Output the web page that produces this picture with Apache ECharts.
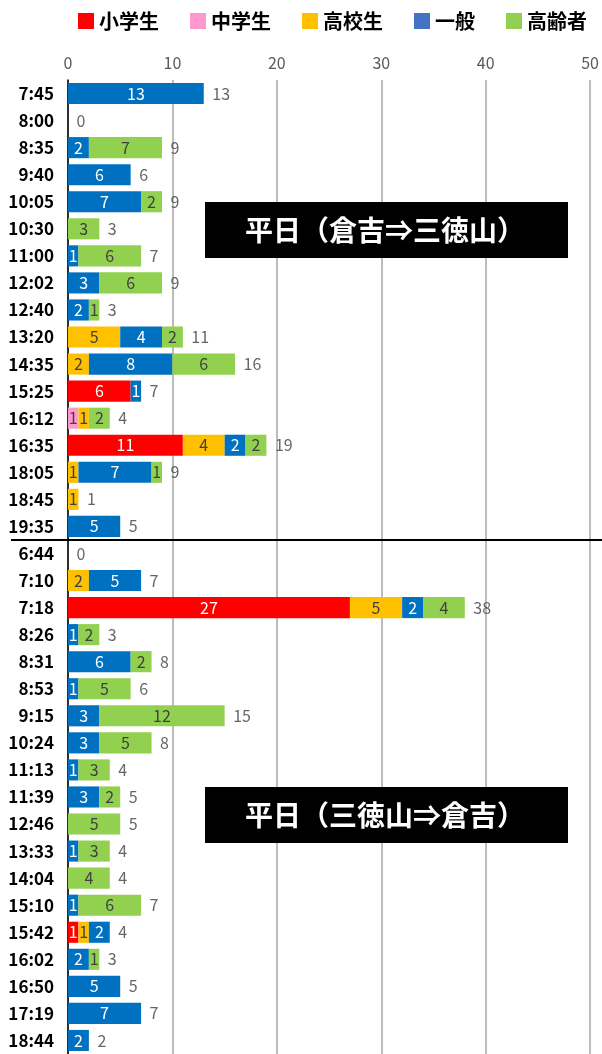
<!DOCTYPE html>
<html><head><meta charset="utf-8">
<script src="https://cdn.jsdelivr.net/npm/echarts@6/dist/echarts.min.js"></script>
<style>html,body{margin:0;padding:0;background:#fff}#c{width:602px;height:1054px}</style>
</head><body><div id="c"></div>
<script>
const categories = ['7:45','8:00','8:35','9:40','10:05','10:30','11:00','12:02','12:40','13:20','14:35','15:25','16:12','16:35','18:05','18:45','19:35',
  '6:44','7:10','7:18','8:26','8:31','8:53','9:15','10:24','11:13','11:39','12:46','13:33','14:04','15:10','15:42','16:02','16:50','17:19','18:44'];
const elementary = [null,null,null,null,null,null,null,null,null,null,null,6,null,11,null,null,null,
  null,null,27,null,null,null,null,null,null,null,null,null,null,null,1,null,null,null,null];
const juniorHigh = [null,null,null,null,null,null,null,null,null,null,null,null,1,null,null,null,null,
  null,null,null,null,null,null,null,null,null,null,null,null,null,null,null,null,null,null,null];
const highSchool = [null,null,null,null,null,null,null,null,null,5,2,null,1,4,1,1,null,
  null,2,5,null,null,null,null,null,null,null,null,null,null,null,1,null,null,null,null];
const general = [13,null,2,6,7,null,1,3,2,4,8,1,null,2,7,null,5,
  null,5,2,1,6,1,3,3,1,3,null,1,null,1,2,2,5,7,2];
const elderly = [null,null,7,null,2,3,6,6,1,2,6,null,2,2,1,null,null,
  null,null,4,2,2,5,12,5,3,2,5,3,4,6,null,1,null,null,null];
const xTicks = [0,10,20,30,40,50];
const boxTitles = ['平日（倉吉⇒三徳山）','平日（三徳山⇒倉吉）'];
const seriesNames = ['小学生','中学生','高校生','一般','高齢者'];

const font = '"Noto Sans CJK JP","Noto Sans",sans-serif';
const seriesData = [elementary, juniorHigh, highSchool, general, elderly];
const colors = ['#FF0000','#FF99CC','#FFC000','#0070C0','#92D050'];
const legendColors = ['#FF0000','#FF99CC','#FFC000','#4472C4','#92D050'];
const labelColors = ['#FFFFFF','#404040','#404040','#FFFFFF','#404040'];
const totals = categories.map((c,i)=>seriesData.reduce((s,a)=>s+(a[i]||0),0));

const chart = echarts.init(document.getElementById('c'));
const series = seriesNames.map((n,k)=>({
  name:n, type:'bar', stack:'all', data:seriesData[k], barCategoryGap:'22%',
  itemStyle:{color:colors[k]},
  label:{show:true, position:'inside', color:labelColors[k], fontSize:16, fontFamily:font,
    formatter:p=>p.value?String(p.value):''},
  emphasis:{disabled:true}
}));
series.push({
  name:'合計', type:'scatter', data:totals.map((t,i)=>[t,i]), symbolSize:1,
  itemStyle:{color:'rgba(0,0,0,0)'},
  label:{show:true, position:'right', distance:8, color:'#404040', fontSize:16, fontFamily:font,
    formatter:p=>String(p.value[0])},
  silent:true, z:5
});
chart.setOption({
  animation:false,
  textStyle:{fontFamily:font},
  legend:{left:73, top:6, itemWidth:16, itemHeight:16, itemGap:31, icon:'rect', selectedMode:false,
    textStyle:{fontSize:20, fontWeight:'bold', color:'#000', fontFamily:font},
    data:seriesNames.map((n,k)=>({name:n, itemStyle:{color:legendColors[k]}}))},
  grid:{left:68, right:11, top:80, bottom:0, containLabel:false},
  xAxis:{type:'value', position:'top', min:xTicks[0], max:xTicks[xTicks.length-1], interval:10,
    axisLine:{show:false}, axisTick:{show:false},
    axisLabel:{color:'#595959', fontSize:16, margin:9, fontFamily:font},
    splitLine:{show:true, lineStyle:{color:'#A6A6A6', width:1.5}}},
  yAxis:{type:'category', inverse:true, data:categories,
    axisLine:{show:true, lineStyle:{color:'#000', width:1.5}}, axisTick:{show:false},
    axisLabel:{color:'#000', fontSize:17, fontWeight:'bold', margin:14, fontFamily:font}},
  series:series
});
const y1 = chart.convertToPixel({yAxisIndex:0}, categories[16]);
const y2 = chart.convertToPixel({yAxisIndex:0}, categories[17]);
const sepY = Math.round((y1+y2)/2);
function box(top, text){
  return {type:'group', left:205, top:top, children:[
    {type:'rect', shape:{x:0,y:0,width:363,height:56}, style:{fill:'#000'}},
    {type:'text', x:180, y:28, style:{text:text, fill:'#fff', fontSize:28, fontWeight:'bold', fontFamily:font, align:'center', verticalAlign:'middle'}}
  ]};
}
chart.setOption({graphic:[
  {type:'line', shape:{x1:11, y1:sepY, x2:602, y2:sepY}, style:{stroke:'#000', lineWidth:2}, z:10},
  box(202, boxTitles[0]),
  box(787, boxTitles[1])
]});
</script></body></html>
